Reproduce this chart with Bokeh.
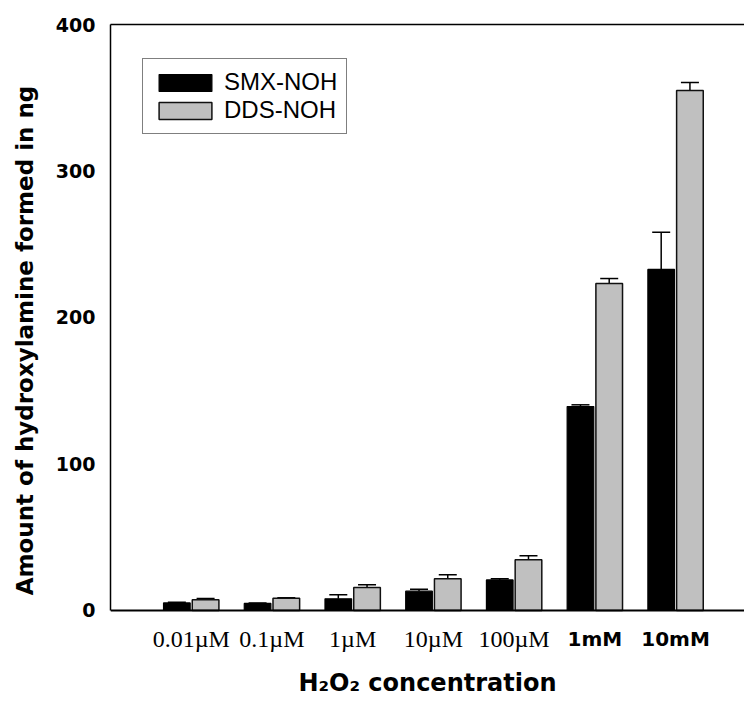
import pandas as pd
from bokeh.plotting import figure
from bokeh.models import (ColumnDataSource, Range1d, FixedTicker, LinearAxis,
                          Whisker, TeeHead, Span, Legend, LegendItem)
from bokeh.core.properties import value
from bokeh.embed import file_html
from bokeh.resources import INLINE

# ---- data ----
categories = ["0.01µM", "0.1µM", "1µM", "10µM", "100µM", "1mM", "10mM"]
smx_values = [5.2, 4.8, 8.0, 13.2, 20.9, 139.2, 232.8]
smx_errors = [0.5, 0.3, 2.7, 1.3, 0.7, 1.2, 25.4]
dds_values = [7.3, 8.4, 15.7, 21.6, 34.6, 223.2, 355.0]
dds_errors = [0.9, 0.3, 1.8, 2.8, 2.7, 3.4, 5.4]
y_ticks = [0, 100, 200, 300, 400]
serif_labels = categories[:5]
bold_labels = categories[5:]

idx = list(range(1, len(categories) + 1))
off = 0.178
bw = 0.33
label_y = -19.5   # tick label row, below the zero line
y_min = -31.4     # frame extends below zero to hold the tick labels

smx_src = ColumnDataSource(pd.DataFrame({
    "x": [i - off for i in idx], "top": smx_values,
    "upper": [v + e for v, e in zip(smx_values, smx_errors)]}))
dds_src = ColumnDataSource(pd.DataFrame({
    "x": [i + off for i in idx], "top": dds_values,
    "upper": [v + e for v, e in zip(dds_values, dds_errors)]}))

serif_src = ColumnDataSource(dict(
    x=[i for i, c in zip(idx, categories) if c in serif_labels],
    y=[label_y] * len(serif_labels), text=serif_labels))
bold_src = ColumnDataSource(dict(
    x=[i for i, c in zip(idx, categories) if c in bold_labels],
    y=[label_y] * len(bold_labels), text=bold_labels))

p = figure(width=744, height=704, output_backend="svg", toolbar_location=None,
           x_range=Range1d(0, 7.854), y_range=Range1d(y_min, 400),
           min_border_left=110, min_border_right=0, min_border_top=24,
           min_border_bottom=48)
p.outline_line_color = None
p.xgrid.visible = False
p.ygrid.visible = False
p.background_fill_color = "white"
p.border_fill_color = "white"

r1 = p.vbar(x="x", top="top", bottom=0, width=bw, source=smx_src,
            fill_color="black", line_color="black", line_width=1.2)
r2 = p.vbar(x="x", top="top", bottom=0, width=bw, source=dds_src,
            fill_color="#c0c0c0", line_color="#111111", line_width=1.5)

for src in (smx_src, dds_src):
    w = Whisker(base="x", lower="top", upper="upper", source=src,
                line_color="black", line_width=1.5, dimension="height",
                lower_head=None,
                upper_head=TeeHead(size=18, line_color="black", line_width=1.5))
    p.add_layout(w)

# zero line (bottom axis line)
p.add_layout(Span(location=0, dimension="width", line_color="black",
                  line_width=2))

# category labels
p.text(x="x", y="y", text="text", source=serif_src, text_align="center",
       text_baseline="middle", text_font=value("Liberation Serif"),
       text_font_size="24px", text_color="black")
p.text(x="x", y="y", text="text", source=bold_src, text_align="center",
       text_baseline="middle", text_font=value("DejaVu Sans"),
       text_font_style="bold", text_font_size="20px", text_color="black")

# y axis
ya = p.yaxis[0]
ya.ticker = FixedTicker(ticks=y_ticks)
ya.bounds = (0, 400)
ya.major_tick_line_color = None
ya.minor_tick_line_color = None
ya.major_tick_out = 0
ya.major_tick_in = 0
ya.axis_line_width = 1.5
ya.axis_line_color = "black"
ya.major_label_text_color = "black"
ya.major_label_text_font = "DejaVu Sans"
ya.major_label_text_font_style = "bold"
ya.major_label_text_font_size = "19px"
ya.major_label_standoff = 15
ya.axis_label = "Amount of hydroxylamine formed in ng"
ya.axis_label_text_color = "black"
ya.axis_label_text_font = "DejaVu Sans"
ya.axis_label_text_font_style = "bold"
ya.axis_label_text_font_size = "23px"
ya.axis_label_standoff = 15

# x axis: title only
xa = p.xaxis[0]
xa.ticker = FixedTicker(ticks=[])
xa.axis_line_color = None
xa.major_tick_line_color = None
xa.minor_tick_line_color = None
xa.axis_label = "H₂O₂ concentration"
xa.axis_label_text_color = "black"
xa.axis_label_text_font = "DejaVu Sans"
xa.axis_label_text_font_style = "bold"
xa.axis_label_text_font_size = "24px"
xa.axis_label_standoff = 12

# top frame line
top = LinearAxis(ticker=FixedTicker(ticks=[]), axis_line_width=1.5,
                 axis_line_color="black",
                 major_tick_line_color=None, minor_tick_line_color=None)
p.add_layout(top, "above")

legend = Legend(items=[LegendItem(label="SMX-NOH", renderers=[r1]),
                       LegendItem(label="DDS-NOH", renderers=[r2])],
                location=(32, 522), padding=9, spacing=0,
                glyph_width=66, glyph_height=21, label_height=28,
                label_standoff=6, label_text_font="Liberation Sans",
                label_text_font_size="24px", label_text_color="black",
                border_line_color="black",
                border_line_width=1.5, background_fill_alpha=1.0,
                margin=0)
p.add_layout(legend, "center")

open("out.html", "w").write(file_html(p, INLINE))
